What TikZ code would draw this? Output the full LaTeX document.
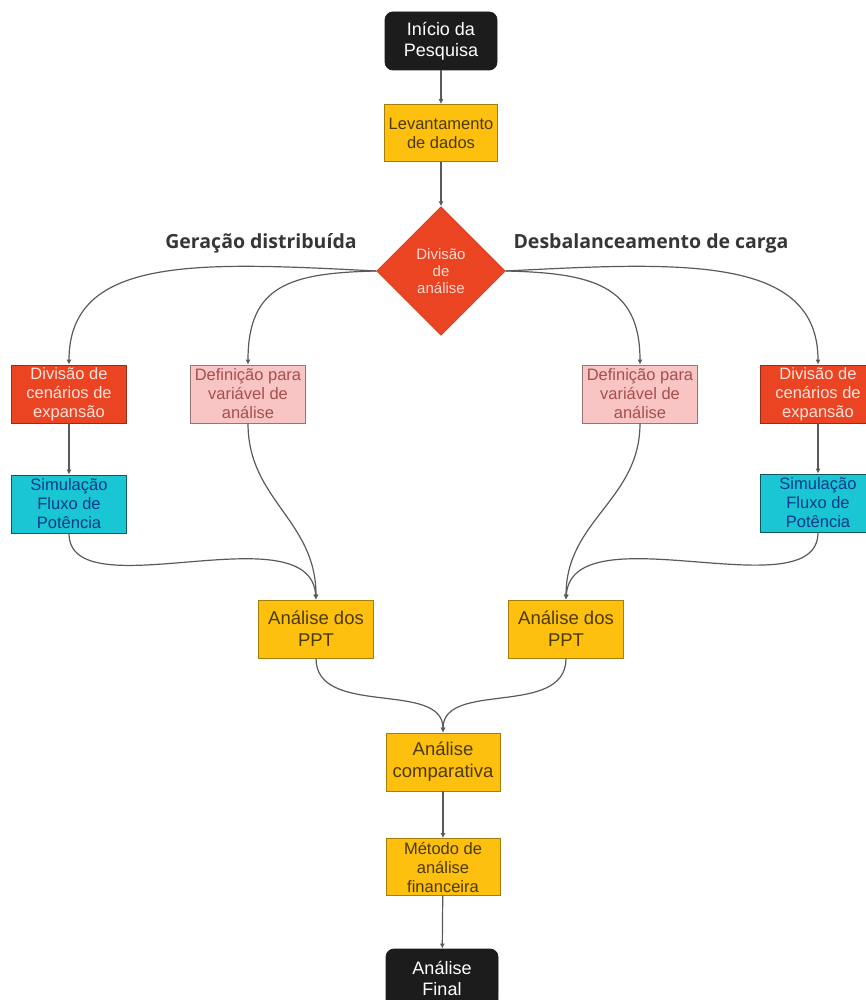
\documentclass[tikz,border=0pt]{standalone}
\usepackage{fontspec}
\setmainfont{Liberation Sans}
\newfontfamily\headfont{Open Sans}
\usepackage{xcolor}
\usepackage{tikz}
\usetikzlibrary{arrows.meta,shapes.geometric}
\definecolor{termblack}{HTML}{1C1C1C}
\definecolor{taskyellow}{HTML}{FDC00F}
\definecolor{splitred}{HTML}{EA4422}
\definecolor{varpink}{HTML}{F8C4C4}
\definecolor{simcyan}{HTML}{1AC6D4}
\definecolor{linkgrey}{HTML}{5A5A5A}
\definecolor{headgrey}{HTML}{363636}
\tikzset{
  base box/.style  = {rectangle, align=center, inner sep=0pt, line width=0.8pt,
                      minimum width=115pt, minimum height=58pt,
                      font=\fontsize{16.5}{19}\selectfont},
  term box/.style  = {base box, fill=termblack, draw=termblack, text=white,
                      rounded corners=8pt, minimum width=112pt,
                      font=\fontsize{18}{21}\selectfont},
  task box/.style  = {base box, fill=taskyellow, draw=taskyellow!65!black,
                      text=black!70!taskyellow},
  big task/.style  = {task box, font=\fontsize{18.5}{22}\selectfont},
  split box/.style = {base box, fill=splitred, draw=splitred!65!black,
                      text=white!85!splitred},
  var box/.style   = {base box, fill=varpink, draw=black!40!varpink,
                      text=black!55!red!60!varpink},
  sim box/.style   = {base box, fill=simcyan, draw=black!55!simcyan,
                      text=blue!40!black!70!simcyan},
  decision/.style  = {diamond, aspect=1, fill=splitred, draw=splitred!75!black,
                      minimum width=129pt, minimum height=129pt, inner sep=0pt,
                      align=center, text=white!80!splitred,
                      font=\fontsize{15}{17}\selectfont},
  side label/.style = {font=\headfont\bfseries\fontsize{19.5}{22}\selectfont,
                       text=headgrey},
  link/.style      = {-{Latex[length=5pt,width=5pt]}, linkgrey, line width=1.2pt},
}

\begin{document}
\begin{tikzpicture}[x=1pt, y=-1pt]
    \useasboundingbox (0,0) rectangle (865,1000);
    \node[term box] (start) at (441,41) {Início da\\Pesquisa};
    \node[task box, minimum width=113pt, minimum height=57pt]
      (survey) at (441,133) {Levantamento\\de dados};
    \node[decision] (split) at (441,271) {Divisão\\de\\análise};
    \node[side label] (gdlabel) at (261,243) {Geração distribuída};
    \node[side label] (dclabel) at (651,243) {Desbalanceamento de carga};
    % left branch
    \node[split box] (scenL) at (69,394) {Divisão de\\cenários de\\expansão};
    \node[var box] (defL) at (248,394) {Definição para\\variável de\\análise};
    \node[sim box] (simL) at (69,504) {Simulação\\Fluxo de\\Potência};
    \node[big task] (pptL) at (316,629) {Análise dos\\PPT};
    % right branch
    \node[var box] (defR) at (640,394) {Definição para\\variável de\\análise};
    \node[split box] (scenR) at (818,394) {Divisão de\\cenários de\\expansão};
    \node[sim box] (simR) at (818,503) {Simulação\\Fluxo de\\Potência};
    \node[big task] (pptR) at (566,629) {Análise dos\\PPT};
    % merge
    \node[big task, minimum width=114pt] (comp) at (443,762) {Análise\\comparativa};
    \node[task box, minimum width=114pt, minimum height=57pt]
      (method) at (443,867) {Método de\\análise\\financeira};
    \node[term box] (final) at (442,978) {Análise\\Final};
    \draw[link] (start) -- (survey);
    \draw[link] (survey) -- (split);
    \draw[link] (split.west) .. controls (200,262) and (69,255) .. (scenL.north);
    \draw[link] (split.west) .. controls (290,273) and (248,285) .. (defL.north);
    \draw[link] (split.east) .. controls (682,262) and (818,255) .. (scenR.north);
    \draw[link] (split.east) .. controls (592,273) and (640,285) .. (defR.north);
    \draw[link] (scenL) -- (simL);
    \draw[link] (scenR) -- (simR);
    \draw[link] (simL.south) .. controls (69,612) and (310,510) .. (pptL.north);
    \draw[link] (defL.south) .. controls (248,500) and (316,520) .. (pptL.north);
    \draw[link] (simR.south) .. controls (818,612) and (572,510) .. (pptR.north);
    \draw[link] (defR.south) .. controls (640,500) and (566,520) .. (pptR.north);
    \draw[link] (pptL.south) .. controls (316,718) and (443,680) .. (comp.north);
    \draw[link] (pptR.south) .. controls (566,718) and (443,680) .. (comp.north);
    \draw[link] (comp) -- (method);
    \draw[link] (method) -- (final);
\end{tikzpicture}
\end{document}
